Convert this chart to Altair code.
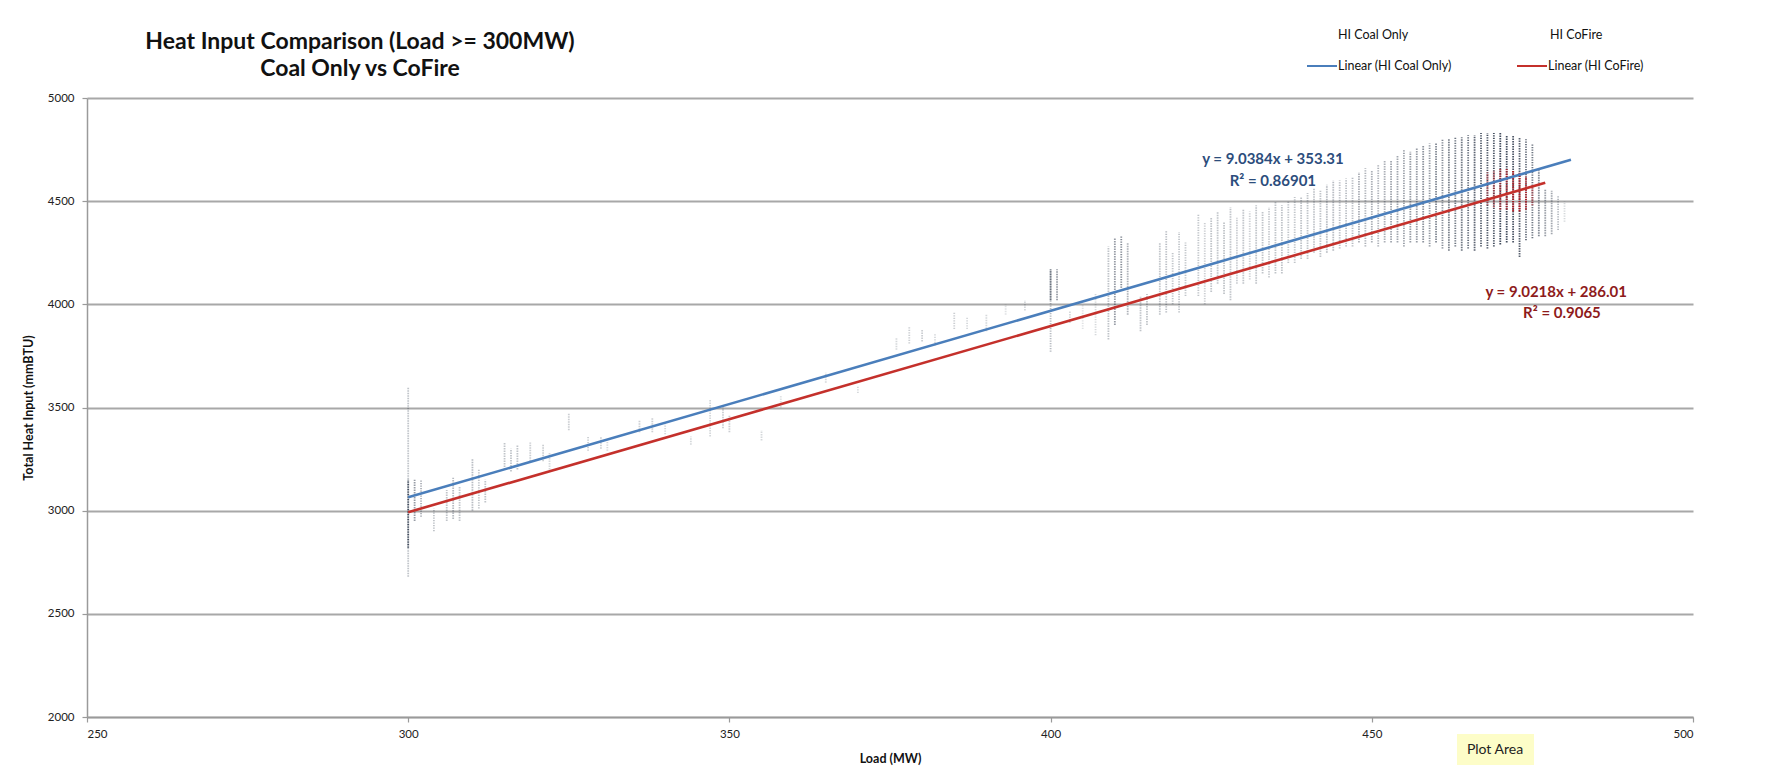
import altair as alt
import pandas as pd

# ---------------- data ----------------
# Coal-only scatter: vertical stacks of points at integer loads (MW): low / high heat input, density
coal_load = [300, 300, 301, 302, 304, 306, 307, 308, 310, 311, 312, 315, 316, 317, 319, 321, 322,
             325, 328, 330, 331, 336, 338, 340, 344, 347, 349, 350, 355, 358, 365, 370, 376, 378,
             380, 382, 385, 387, 390, 393, 396, 400, 400, 401, 403, 405, 407, 409, 410, 411, 412,
             414, 415, 417, 418, 419, 420, 421, 423, 424, 425, 426, 427, 428, 429, 430, 431, 432,
             433, 434, 435, 436, 437, 438, 439, 440, 441, 442, 443, 444, 445, 446, 447, 448, 449,
             450, 451, 452, 453, 454, 455, 456, 457, 458, 459, 460, 461, 462, 463, 464, 465, 466,
             467, 468, 469, 470, 471, 472, 473, 474, 475, 476, 477, 478, 479, 480]
coal_lo = [2680, 2820, 2950, 2970, 2900, 2950, 2960, 2950, 3000, 3010, 3040, 3200, 3190, 3200, 3240, 3240, 3200,
           3390, 3290, 3300, 3290, 3380, 3380, 3370, 3320, 3360, 3400, 3380, 3340, 3500, 3620, 3570, 3780, 3810,
           3820, 3800, 3880, 3880, 3870, 3950, 3970, 3770, 4020, 4020, 3910, 3880, 3850, 3830, 3900, 4080, 3950,
           3870, 3900, 3950, 3960, 4000, 3960, 4040, 4040, 4000, 4060, 4100, 4050, 4020, 4100, 4100, 4120, 4100,
           4150, 4130, 4150, 4150, 4200, 4200, 4220, 4220, 4250, 4230, 4250, 4260, 4270, 4280, 4280, 4300, 4280,
           4300, 4280, 4300, 4300, 4300, 4280, 4300, 4300, 4300, 4280, 4300, 4270, 4260, 4280, 4260, 4270, 4260,
           4280, 4270, 4280, 4290, 4300, 4300, 4230, 4310, 4320, 4330, 4330, 4340, 4360, 4400]
coal_hi = [3600, 3150, 3150, 3150, 3010, 3100, 3160, 3120, 3250, 3200, 3150, 3330, 3300, 3320, 3330, 3320, 3280,
           3470, 3360, 3360, 3340, 3440, 3450, 3420, 3360, 3540, 3500, 3460, 3390, 3560, 3670, 3600, 3840, 3890,
           3880, 3860, 3960, 3940, 3950, 4000, 4020, 4170, 4170, 4170, 3970, 4000, 4050, 4280, 4320, 4330, 4300,
           4040, 4050, 4300, 4360, 4250, 4350, 4300, 4440, 4400, 4420, 4450, 4400, 4470, 4420, 4460, 4450, 4480,
           4450, 4470, 4500, 4480, 4500, 4520, 4520, 4540, 4560, 4550, 4580, 4600, 4600, 4610, 4620, 4640, 4660,
           4650, 4680, 4700, 4700, 4720, 4750, 4740, 4760, 4770, 4780, 4780, 4800, 4800, 4810, 4810, 4820, 4820,
           4830, 4830, 4830, 4830, 4820, 4820, 4810, 4800, 4780, 4650, 4560, 4550, 4530, 4500]
coal_density = [0.3, 0.9, 0.5, 0.4, 0.3, 0.3, 0.35, 0.3, 0.35, 0.3, 0.3, 0.3, 0.3, 0.3, 0.25, 0.25, 0.2,
                0.25, 0.25, 0.25, 0.2, 0.25, 0.25, 0.2, 0.2, 0.2, 0.25, 0.25, 0.2, 0.15, 0.2, 0.2, 0.2, 0.25,
                0.25, 0.2, 0.25, 0.2, 0.2, 0.15, 0.2, 0.35, 0.7, 0.5, 0.2, 0.15, 0.2, 0.3, 0.5, 0.6, 0.4,
                0.3, 0.3, 0.3, 0.35, 0.3, 0.3, 0.3, 0.3, 0.25, 0.3, 0.3, 0.3, 0.3, 0.25, 0.3, 0.25, 0.3,
                0.3, 0.25, 0.3, 0.3, 0.3, 0.3, 0.3, 0.3, 0.3, 0.3, 0.35, 0.35, 0.35, 0.35, 0.35, 0.4, 0.4,
                0.4, 0.4, 0.4, 0.45, 0.45, 0.5, 0.5, 0.5, 0.55, 0.55, 0.6, 0.6, 0.65, 0.7, 0.7, 0.75, 0.8,
                0.85, 0.9, 0.9, 0.9, 0.9, 0.85, 0.8, 0.75, 0.7, 0.6, 0.5, 0.45, 0.35, 0.2]

# CoFire scatter (red)
cofire_load = [468, 469, 470, 471, 472, 473, 474, 475]
cofire_lo = [4480, 4470, 4460, 4460, 4450, 4450, 4460, 4480]
cofire_hi = [4640, 4650, 4660, 4660, 4650, 4640, 4620, 4580]
cofire_density = [0.5, 0.55, 0.7, 0.8, 0.9, 0.95, 0.8, 0.5]

# Linear trend lines (as labelled on the chart)
trend_series = ["Linear (HI Coal Only)", "Linear (HI CoFire)"]
trend_slope = [9.0384, 9.0218]
trend_intercept = [353.31, 286.01]
trend_start = [300, 300]
trend_end = [481, 477]
trend_colors = ["#4a7ebb", "#c4302b"]

eq_text = ["y = 9.0384x + 353.31", "R² = 0.86901", "y = 9.0218x + 286.01", "R² = 0.9065"]
eq_load = [434.6, 434.6, 478.7, 479.6]
eq_hi = [4705, 4600, 4060, 3958]
eq_color = ["#2c4d7c", "#2c4d7c", "#8e1b1b", "#8e1b1b"]

x_ticks = [250, 300, 350, 400, 450, 500]
y_ticks = [2000, 2500, 3000, 3500, 4000, 4500, 5000]

FONT = "Lato"
W, H = 1606, 619

# ---------------- tables ----------------
coal = pd.DataFrame({"load": coal_load, "lo": coal_lo, "hi": coal_hi, "d": coal_density})
cof = pd.DataFrame({"load": cofire_load, "lo": cofire_lo, "hi": cofire_hi, "d": cofire_density})
rows = []
for s, m, b, x0, x1 in zip(trend_series, trend_slope, trend_intercept, trend_start, trend_end):
    rows.append({"series": s, "load": x0, "hi": m * x0 + b})
    rows.append({"series": s, "load": x1, "hi": m * x1 + b})
trend = pd.DataFrame(rows)
eqs = pd.DataFrame({"load": eq_load, "hi": eq_hi, "text": eq_text, "color": eq_color})

xscale = alt.Scale(domain=[250, 500], nice=False, zero=False)
yscale = alt.Scale(domain=[2000, 5000], nice=False, zero=False)
xaxis = alt.Axis(values=x_ticks, grid=False, domainColor="#9a9a9a", domainWidth=1.5,
                 tickColor="#9a9a9a", tickSize=5, tickWidth=1.2, labelFont=FONT, labelFontSize=11.5,
                 labelColor="#222", labelPadding=6, titleFont=FONT, titleFontSize=12.5,
                 titleFontWeight="bold", titleColor="#111", titlePadding=13, format="d")
yaxis = alt.Axis(values=y_ticks, grid=True, gridColor="#a8a8a8", gridWidth=1.8,
                 domainColor="#9a9a9a", domainWidth=1.5, tickColor="#9a9a9a", tickSize=5,
                 tickWidth=1.2, labelFont=FONT, labelFontSize=11.5, labelColor="#222", labelPadding=8,
                 titleFont=FONT, titleFontSize=12.5, titleFontWeight="bold", titleColor="#111",
                 titlePadding=12, format="d")

X = alt.X("load:Q", scale=xscale, axis=xaxis, title="Load (MW)")
Y_lo = alt.Y("lo:Q", scale=yscale, axis=yaxis, title="Total Heat Input (mmBTU)")
Y = alt.Y("hi:Q", scale=yscale, axis=yaxis, title="Total Heat Input (mmBTU)")

coal_layer = alt.Chart(coal).mark_rule(strokeDash=[1.4, 1.1], strokeWidth=1.8, color="#2f3a4c").encode(
    x=X, y=Y_lo, y2="hi:Q", opacity=alt.Opacity("d:Q", scale=None, legend=None))
cof_layer = alt.Chart(cof).mark_rule(strokeDash=[1.4, 0.9], strokeWidth=2.0, color="#b3121a").encode(
    x=X, y=Y_lo, y2="hi:Q", opacity=alt.Opacity("d:Q", scale=None, legend=None))

trend_layer = alt.Chart(trend).mark_line(strokeWidth=2.6).encode(
    x=X, y=Y,
    color=alt.Color("series:N", scale=alt.Scale(domain=trend_series, range=trend_colors), legend=None),
    detail="series:N")

eq_layer = alt.Chart(eqs).mark_text(font=FONT, fontSize=15, fontWeight="bold").encode(
    x=X, y=Y, text="text:N", color=alt.Color("color:N", scale=None, legend=None))

one = pd.DataFrame({"a": [0]})
def txt(s, x, y, size=11, weight="normal", align="center", color="#111"):
    return alt.Chart(one).mark_text(font=FONT, fontSize=size, fontWeight=weight, align=align,
                                    baseline="middle", color=color).encode(
        x=alt.value(x), y=alt.value(y), text=alt.value(s))

def seg(x0, x1, y, color):
    return alt.Chart(one).mark_rule(color=color, strokeWidth=2).encode(
        x=alt.value(x0), x2=alt.value(x1), y=alt.value(y))

# positions relative to the plot area's top-left corner
title1 = txt("Heat Input Comparison (Load >= 300MW)", 273, -56, size=23, weight="bold")
title2 = txt("Coal Only vs CoFire", 273, -29, size=23, weight="bold")

leg = [
    txt("HI Coal Only", 1251, -63, size=12.5, align="left"),
    txt("HI CoFire", 1463, -63, size=12.5, align="left"),
    seg(1220, 1250, -32, "#4a7ebb"),
    txt("Linear (HI Coal Only)", 1251, -32, size=12.5, align="left"),
    seg(1430, 1460, -32, "#c4302b"),
    txt("Linear (HI CoFire)", 1461, -32, size=12.5, align="left"),
]

tip_box = alt.Chart(one).mark_rect(color="#fdfdc8").encode(
    x=alt.value(1370), x2=alt.value(1447), y=alt.value(636), y2=alt.value(667))
tip_txt = txt("Plot Area", 1408, 652, size=14, color="#222")

chart = alt.layer(coal_layer, cof_layer, trend_layer, eq_layer, title1, title2, *leg,
                  tip_box, tip_txt).properties(
    width=W, height=H,
    autosize=alt.AutoSizeParams(type="none"),
    padding={"left": 79, "top": 90, "right": 73, "bottom": 50},
    background="white",
).configure_view(stroke=None)

chart.save("out.html", embed_options={"renderer": "svg", "actions": False})
